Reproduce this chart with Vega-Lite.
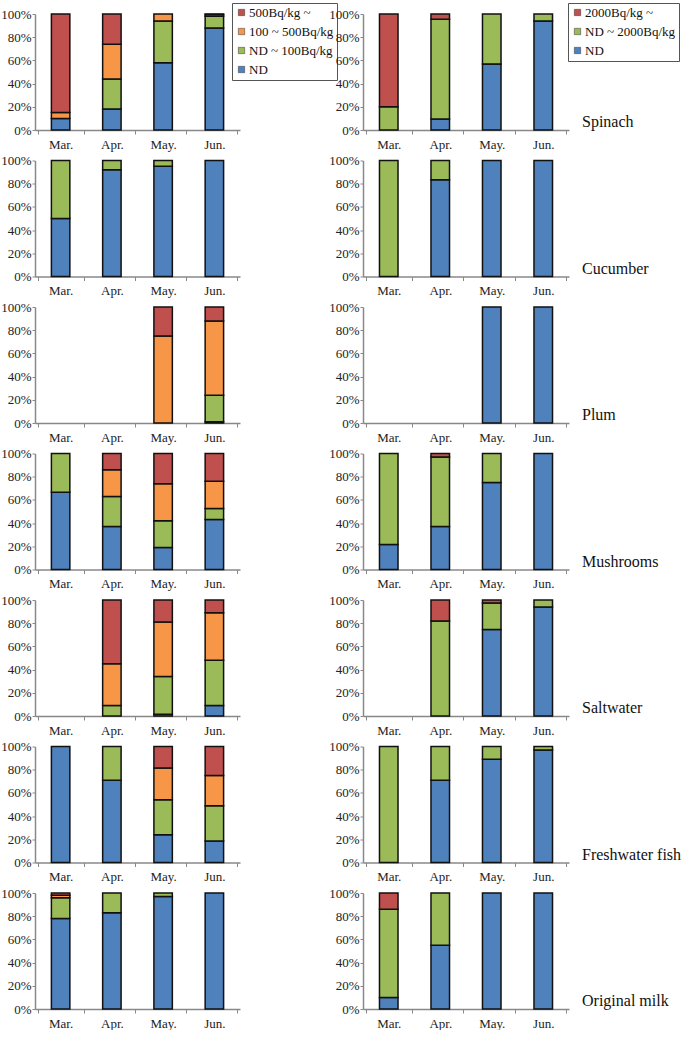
{
 "$schema": "https://vega.github.io/schema/vega-lite/v6.json",
 "padding": {"left": 0, "top": 2, "right": 0, "bottom": 0},
 "config": {
   "font": "Liberation Serif",
   "view": {"stroke": null},
   "axis": {"labelFont": "Liberation Serif", "labelFontSize": 13, "labelColor": "#222", "domainColor": "#888", "tickColor": "#888", "grid": false, "title": null},
   "legend": {"strokeColor": "#555", "padding": 3, "fillColor": "white", "symbolType": "square", "symbolSize": 40, "symbolStrokeColor": "#333", "symbolStrokeWidth": 0.5, "labelFont": "Liberation Serif", "labelFontSize": 13, "labelColor": "#111", "rowPadding": 5, "labelOffset": 1, "title": null}
 },
 "datasets": {
  "left": [
   {"food": "Spinach", "month": "Mar.", "level": "ND", "pct": 10},
   {"food": "Spinach", "month": "Mar.", "level": "100 ~ 500Bq/kg", "pct": 5},
   {"food": "Spinach", "month": "Mar.", "level": "500Bq/kg ~", "pct": 85},
   {"food": "Spinach", "month": "Apr.", "level": "ND", "pct": 18},
   {"food": "Spinach", "month": "Apr.", "level": "ND ~ 100Bq/kg", "pct": 26},
   {"food": "Spinach", "month": "Apr.", "level": "100 ~ 500Bq/kg", "pct": 30},
   {"food": "Spinach", "month": "Apr.", "level": "500Bq/kg ~", "pct": 26},
   {"food": "Spinach", "month": "May.", "level": "ND", "pct": 58},
   {"food": "Spinach", "month": "May.", "level": "ND ~ 100Bq/kg", "pct": 36},
   {"food": "Spinach", "month": "May.", "level": "100 ~ 500Bq/kg", "pct": 6},
   {"food": "Spinach", "month": "Jun.", "level": "ND", "pct": 88},
   {"food": "Spinach", "month": "Jun.", "level": "ND ~ 100Bq/kg", "pct": 10},
   {"food": "Spinach", "month": "Jun.", "level": "100 ~ 500Bq/kg", "pct": 1.5},
   {"food": "Spinach", "month": "Jun.", "level": "500Bq/kg ~", "pct": 0.5},
   {"food": "Cucumber", "month": "Mar.", "level": "ND", "pct": 50},
   {"food": "Cucumber", "month": "Mar.", "level": "ND ~ 100Bq/kg", "pct": 50},
   {"food": "Cucumber", "month": "Apr.", "level": "ND", "pct": 92},
   {"food": "Cucumber", "month": "Apr.", "level": "ND ~ 100Bq/kg", "pct": 8},
   {"food": "Cucumber", "month": "May.", "level": "ND", "pct": 95},
   {"food": "Cucumber", "month": "May.", "level": "ND ~ 100Bq/kg", "pct": 5},
   {"food": "Cucumber", "month": "Jun.", "level": "ND", "pct": 100},
   {"food": "Plum", "month": "May.", "level": "100 ~ 500Bq/kg", "pct": 75},
   {"food": "Plum", "month": "May.", "level": "500Bq/kg ~", "pct": 25},
   {"food": "Plum", "month": "Jun.", "level": "ND", "pct": 1},
   {"food": "Plum", "month": "Jun.", "level": "ND ~ 100Bq/kg", "pct": 23},
   {"food": "Plum", "month": "Jun.", "level": "100 ~ 500Bq/kg", "pct": 64},
   {"food": "Plum", "month": "Jun.", "level": "500Bq/kg ~", "pct": 12},
   {"food": "Mushrooms", "month": "Mar.", "level": "ND", "pct": 66.5},
   {"food": "Mushrooms", "month": "Mar.", "level": "ND ~ 100Bq/kg", "pct": 33.5},
   {"food": "Mushrooms", "month": "Apr.", "level": "ND", "pct": 37},
   {"food": "Mushrooms", "month": "Apr.", "level": "ND ~ 100Bq/kg", "pct": 26},
   {"food": "Mushrooms", "month": "Apr.", "level": "100 ~ 500Bq/kg", "pct": 23},
   {"food": "Mushrooms", "month": "Apr.", "level": "500Bq/kg ~", "pct": 14},
   {"food": "Mushrooms", "month": "May.", "level": "ND", "pct": 19},
   {"food": "Mushrooms", "month": "May.", "level": "ND ~ 100Bq/kg", "pct": 23},
   {"food": "Mushrooms", "month": "May.", "level": "100 ~ 500Bq/kg", "pct": 32},
   {"food": "Mushrooms", "month": "May.", "level": "500Bq/kg ~", "pct": 26},
   {"food": "Mushrooms", "month": "Jun.", "level": "ND", "pct": 43},
   {"food": "Mushrooms", "month": "Jun.", "level": "ND ~ 100Bq/kg", "pct": 9.5},
   {"food": "Mushrooms", "month": "Jun.", "level": "100 ~ 500Bq/kg", "pct": 23.5},
   {"food": "Mushrooms", "month": "Jun.", "level": "500Bq/kg ~", "pct": 24},
   {"food": "Saltwater", "month": "Apr.", "level": "ND ~ 100Bq/kg", "pct": 9},
   {"food": "Saltwater", "month": "Apr.", "level": "100 ~ 500Bq/kg", "pct": 36},
   {"food": "Saltwater", "month": "Apr.", "level": "500Bq/kg ~", "pct": 55},
   {"food": "Saltwater", "month": "May.", "level": "ND", "pct": 1.5},
   {"food": "Saltwater", "month": "May.", "level": "ND ~ 100Bq/kg", "pct": 32.5},
   {"food": "Saltwater", "month": "May.", "level": "100 ~ 500Bq/kg", "pct": 47},
   {"food": "Saltwater", "month": "May.", "level": "500Bq/kg ~", "pct": 19},
   {"food": "Saltwater", "month": "Jun.", "level": "ND", "pct": 9},
   {"food": "Saltwater", "month": "Jun.", "level": "ND ~ 100Bq/kg", "pct": 39},
   {"food": "Saltwater", "month": "Jun.", "level": "100 ~ 500Bq/kg", "pct": 41},
   {"food": "Saltwater", "month": "Jun.", "level": "500Bq/kg ~", "pct": 11},
   {"food": "Freshwater fish", "month": "Mar.", "level": "ND", "pct": 100},
   {"food": "Freshwater fish", "month": "Apr.", "level": "ND", "pct": 71},
   {"food": "Freshwater fish", "month": "Apr.", "level": "ND ~ 100Bq/kg", "pct": 29},
   {"food": "Freshwater fish", "month": "May.", "level": "ND", "pct": 24},
   {"food": "Freshwater fish", "month": "May.", "level": "ND ~ 100Bq/kg", "pct": 30},
   {"food": "Freshwater fish", "month": "May.", "level": "100 ~ 500Bq/kg", "pct": 27.5},
   {"food": "Freshwater fish", "month": "May.", "level": "500Bq/kg ~", "pct": 18.5},
   {"food": "Freshwater fish", "month": "Jun.", "level": "ND", "pct": 18.5},
   {"food": "Freshwater fish", "month": "Jun.", "level": "ND ~ 100Bq/kg", "pct": 30.5},
   {"food": "Freshwater fish", "month": "Jun.", "level": "100 ~ 500Bq/kg", "pct": 26},
   {"food": "Freshwater fish", "month": "Jun.", "level": "500Bq/kg ~", "pct": 25},
   {"food": "Original milk", "month": "Mar.", "level": "ND", "pct": 78},
   {"food": "Original milk", "month": "Mar.", "level": "ND ~ 100Bq/kg", "pct": 18},
   {"food": "Original milk", "month": "Mar.", "level": "100 ~ 500Bq/kg", "pct": 2},
   {"food": "Original milk", "month": "Mar.", "level": "500Bq/kg ~", "pct": 2},
   {"food": "Original milk", "month": "Apr.", "level": "ND", "pct": 83},
   {"food": "Original milk", "month": "Apr.", "level": "ND ~ 100Bq/kg", "pct": 17},
   {"food": "Original milk", "month": "May.", "level": "ND", "pct": 97},
   {"food": "Original milk", "month": "May.", "level": "ND ~ 100Bq/kg", "pct": 3},
   {"food": "Original milk", "month": "Jun.", "level": "ND", "pct": 100}
  ],
  "right": [
   {"food": "Spinach", "month": "Mar.", "level": "ND ~ 2000Bq/kg", "pct": 20},
   {"food": "Spinach", "month": "Mar.", "level": "2000Bq/kg ~", "pct": 80},
   {"food": "Spinach", "month": "Apr.", "level": "ND", "pct": 9.5},
   {"food": "Spinach", "month": "Apr.", "level": "ND ~ 2000Bq/kg", "pct": 86},
   {"food": "Spinach", "month": "Apr.", "level": "2000Bq/kg ~", "pct": 4.5},
   {"food": "Spinach", "month": "May.", "level": "ND", "pct": 57},
   {"food": "Spinach", "month": "May.", "level": "ND ~ 2000Bq/kg", "pct": 43},
   {"food": "Spinach", "month": "Jun.", "level": "ND", "pct": 94},
   {"food": "Spinach", "month": "Jun.", "level": "ND ~ 2000Bq/kg", "pct": 6},
   {"food": "Cucumber", "month": "Mar.", "level": "ND ~ 2000Bq/kg", "pct": 100},
   {"food": "Cucumber", "month": "Apr.", "level": "ND", "pct": 83.5},
   {"food": "Cucumber", "month": "Apr.", "level": "ND ~ 2000Bq/kg", "pct": 16.5},
   {"food": "Cucumber", "month": "May.", "level": "ND", "pct": 100},
   {"food": "Cucumber", "month": "Jun.", "level": "ND", "pct": 100},
   {"food": "Plum", "month": "May.", "level": "ND", "pct": 100},
   {"food": "Plum", "month": "Jun.", "level": "ND", "pct": 100},
   {"food": "Mushrooms", "month": "Mar.", "level": "ND", "pct": 21.5},
   {"food": "Mushrooms", "month": "Mar.", "level": "ND ~ 2000Bq/kg", "pct": 78.5},
   {"food": "Mushrooms", "month": "Apr.", "level": "ND", "pct": 37},
   {"food": "Mushrooms", "month": "Apr.", "level": "ND ~ 2000Bq/kg", "pct": 60},
   {"food": "Mushrooms", "month": "Apr.", "level": "2000Bq/kg ~", "pct": 3},
   {"food": "Mushrooms", "month": "May.", "level": "ND", "pct": 75},
   {"food": "Mushrooms", "month": "May.", "level": "ND ~ 2000Bq/kg", "pct": 25},
   {"food": "Mushrooms", "month": "Jun.", "level": "ND", "pct": 100},
   {"food": "Saltwater", "month": "Apr.", "level": "ND ~ 2000Bq/kg", "pct": 82},
   {"food": "Saltwater", "month": "Apr.", "level": "2000Bq/kg ~", "pct": 18},
   {"food": "Saltwater", "month": "May.", "level": "ND", "pct": 74.5},
   {"food": "Saltwater", "month": "May.", "level": "ND ~ 2000Bq/kg", "pct": 23},
   {"food": "Saltwater", "month": "May.", "level": "2000Bq/kg ~", "pct": 2.5},
   {"food": "Saltwater", "month": "Jun.", "level": "ND", "pct": 94},
   {"food": "Saltwater", "month": "Jun.", "level": "ND ~ 2000Bq/kg", "pct": 6},
   {"food": "Freshwater fish", "month": "Mar.", "level": "ND ~ 2000Bq/kg", "pct": 100},
   {"food": "Freshwater fish", "month": "Apr.", "level": "ND", "pct": 71},
   {"food": "Freshwater fish", "month": "Apr.", "level": "ND ~ 2000Bq/kg", "pct": 29},
   {"food": "Freshwater fish", "month": "May.", "level": "ND", "pct": 89},
   {"food": "Freshwater fish", "month": "May.", "level": "ND ~ 2000Bq/kg", "pct": 11},
   {"food": "Freshwater fish", "month": "Jun.", "level": "ND", "pct": 97},
   {"food": "Freshwater fish", "month": "Jun.", "level": "ND ~ 2000Bq/kg", "pct": 3},
   {"food": "Original milk", "month": "Mar.", "level": "ND", "pct": 10},
   {"food": "Original milk", "month": "Mar.", "level": "ND ~ 2000Bq/kg", "pct": 76},
   {"food": "Original milk", "month": "Mar.", "level": "2000Bq/kg ~", "pct": 14},
   {"food": "Original milk", "month": "Apr.", "level": "ND", "pct": 55},
   {"food": "Original milk", "month": "Apr.", "level": "ND ~ 2000Bq/kg", "pct": 45},
   {"food": "Original milk", "month": "May.", "level": "ND", "pct": 100},
   {"food": "Original milk", "month": "Jun.", "level": "ND", "pct": 100}
  ]
 },
 "hconcat": [
  {
   "data": {"name": "left"},
   "transform": [{"calculate": "indexof(['ND','ND ~ 100Bq/kg','100 ~ 500Bq/kg','500Bq/kg ~'], datum.level)", "as": "rank"}],
   "facet": {"row": {"field": "food", "type": "nominal", "sort": ["Spinach","Cucumber","Plum","Mushrooms","Saltwater","Freshwater fish","Original milk"], "header": {"labels": false, "title": null}}},
   "spacing": {"row": 3.5},
   "resolve": {"axis": {"x": "independent", "y": "independent"}},
   "spec": {
    "width": 205, "height": 116,
    "mark": {"type": "bar", "stroke": "#111", "strokeWidth": 1.5, "width": {"band": 0.4}},
    "encoding": {
     "x": {"field": "month", "type": "nominal", "sort": null, "scale": {"domain": ["Mar.","Apr.","May.","Jun."]}, "axis": {"labelAngle": 0, "tickBand": "extent", "tickSize": 4, "labelPadding": 4, "domainWidth": 1.5}},
     "y": {"field": "pct", "type": "quantitative", "stack": "zero", "scale": {"domain": [0, 100]}, "axis": {"values": [0,20,40,60,80,100], "labelExpr": "datum.value + '%'", "tickSize": 3, "labelPadding": 1, "domainWidth": 1.5}},
     "color": {"field": "level", "type": "nominal", "scale": {"domain": ["500Bq/kg ~","100 ~ 500Bq/kg","ND ~ 100Bq/kg","ND"], "range": ["#C0504D","#F79646","#9BBB59","#4F81BD"]}, "legend": {"orient": "none", "legendX": 197, "legendY": -11}},
     "order": {"field": "rank", "type": "quantitative"}
    }
   }
  },
  {
   "data": {"name": "right"},
   "transform": [{"calculate": "indexof(['ND','ND ~ 2000Bq/kg','2000Bq/kg ~'], datum.level)", "as": "rank"}],
   "facet": {"row": {"field": "food", "type": "nominal", "sort": ["Spinach","Cucumber","Plum","Mushrooms","Saltwater","Freshwater fish","Original milk"], "header": {"title": null, "labelOrient": "right", "labelAngle": 0, "labelAlign": "right", "labelAnchor": "end", "labelBaseline": "bottom", "labelFontSize": 16, "labelFont": "Liberation Serif", "labelColor": "#111", "labelPadding": 13, "labelOffset": -4}}},
   "spacing": {"row": 3.5},
   "resolve": {"axis": {"x": "independent", "y": "independent"}},
   "spec": {
    "width": 206, "height": 116,
    "mark": {"type": "bar", "stroke": "#111", "strokeWidth": 1.5, "width": {"band": 0.4}},
    "encoding": {
     "x": {"field": "month", "type": "nominal", "sort": null, "scale": {"domain": ["Mar.","Apr.","May.","Jun."]}, "axis": {"labelAngle": 0, "tickBand": "extent", "tickSize": 4, "labelPadding": 4, "domainWidth": 1.5}},
     "y": {"field": "pct", "type": "quantitative", "stack": "zero", "scale": {"domain": [0, 100]}, "axis": {"values": [0,20,40,60,80,100], "labelExpr": "datum.value + '%'", "tickSize": 3, "labelPadding": 1, "domainWidth": 1.5}},
     "color": {"field": "level", "type": "nominal", "scale": {"domain": ["2000Bq/kg ~","ND ~ 2000Bq/kg","ND"], "range": ["#C0504D","#9BBB59","#4F81BD"]}, "legend": {"orient": "none", "legendX": 205, "legendY": -11}},
     "order": {"field": "rank", "type": "quantitative"}
    }
   }
  }
 ],
 "spacing": -10,
 "resolve": {"scale": {"color": "independent"}, "legend": {"color": "independent"}}
}
